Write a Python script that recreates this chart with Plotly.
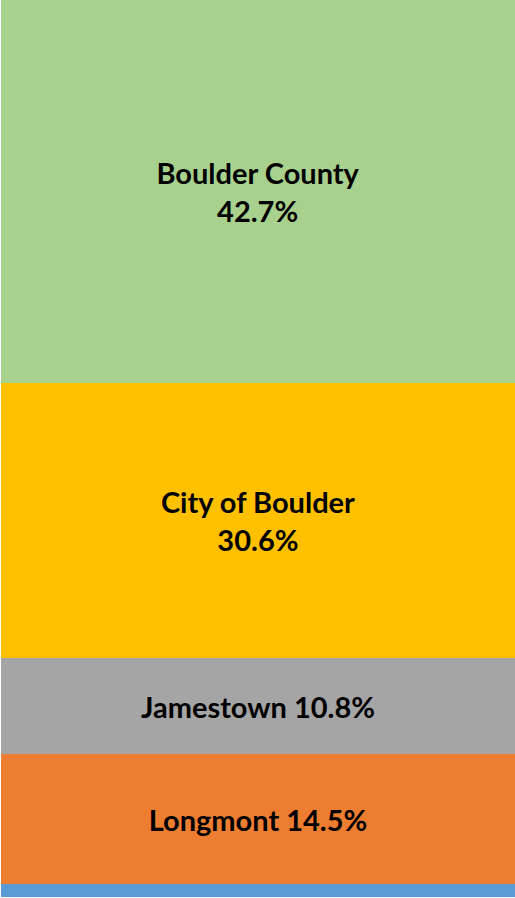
import plotly.graph_objects as go

categories = ["Total"]
segment_names = ["Other", "Longmont", "Jamestown", "City of Boulder", "Boulder County"]
segment_values = [1.4, 14.5, 10.8, 30.6, 42.7]
segment_labels = ["", "Longmont 14.5%", "Jamestown 10.8%", "City of Boulder<br>30.6%", "Boulder County<br>42.7%"]
segment_colors = ["#5B9BD5", "#ED7D31", "#A5A5A5", "#FFC000", "#A9D18E"]

fig = go.Figure()
for name, val, lab, col in zip(segment_names, segment_values, segment_labels, segment_colors):
    fig.add_trace(go.Bar(
        x=categories, y=[val], name=name,
        marker=dict(color=col, line=dict(width=0)),
        text=[lab], texttemplate="%{text}",
        textposition="inside", insidetextanchor="middle",
        textfont=dict(family="Lato", size=29, color="black", weight="bold"),
        constraintext="none", hoverinfo="skip",
    ))

fig.update_layout(
    barmode="stack", bargap=0,
    width=515, height=898,
    margin=dict(l=1, r=0, t=0, b=1),
    showlegend=False,
    paper_bgcolor="white", plot_bgcolor="white",
    xaxis=dict(visible=False),
    yaxis=dict(visible=False, range=[0, 100]),
)
fig.write_html("out.html")
